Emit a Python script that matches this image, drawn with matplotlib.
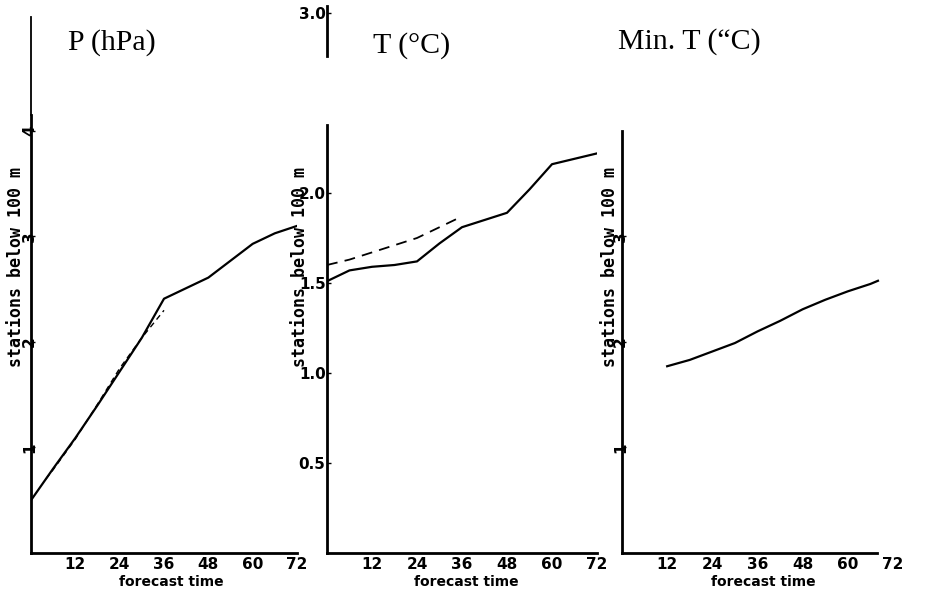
import matplotlib.pyplot as plt

# forecast time (h)
hours = [0, 6, 12, 18, 24, 30, 36, 42, 48, 54, 60, 66, 72]

# P (hPa): stations below 100 m
p_solid = [0.50, 0.80, 1.09, 1.40, 1.72, 2.04, 2.41, 2.51, 2.61, 2.77, 2.93, 3.03, 3.10]
p_dash_hours = [4, 6, 12, 18, 24, 30, 36]
p_dash = [0.70, 0.79, 1.08, 1.41, 1.75, 2.04, 2.30]

# T (C)
t_solid = [1.51, 1.57, 1.59, 1.60, 1.62, 1.72, 1.81, 1.85, 1.89, 2.02, 2.16, 2.19, 2.22]
t_dash_hours = [0, 6, 12, 18, 24, 30, 36]
t_dash = [1.60, 1.63, 1.67, 1.71, 1.75, 1.81, 1.87]

# Min. T (C)
mint_hours = [12, 18, 24, 30, 36, 42, 48, 54, 60, 66, 68]
mint = [1.77, 1.83, 1.91, 1.99, 2.10, 2.20, 2.31, 2.40, 2.48, 2.55, 2.58]

xticks = [12, 24, 36, 48, 60, 72]
titles = ['P (hPa)', 'T (°C)', 'Min. T (“C)']

W, H = 930, 597
fig = plt.figure(figsize=(W / 100, H / 100), dpi=100)


def box(l, r, b, t):
    # pixel box -> figure fraction
    return [l / W, 1 - b / H, (r - l) / W, (b - t) / H]


def fx(x):
    return x / W


def fy(y):
    return 1 - y / H


tickkw = dict(fontfamily='DejaVu Sans', fontweight='bold', fontsize=11)

ax1 = fig.add_axes(box(31, 297, 553, 17))
ax2 = fig.add_axes(box(327, 597, 553, 13))
ax3 = fig.add_axes(box(622, 893, 553, 17))

for ax in (ax1, ax2, ax3):
    for s in ('top', 'right'):
        ax.spines[s].set_visible(False)
    for s in ('left', 'bottom'):
        ax.spines[s].set_linewidth(2)
    ax.set_xlim(0, 72)
    ax.set_xticks(xticks)
    ax.set_xticklabels([str(v) for v in xticks], **tickkw)
    ax.tick_params(axis='x', direction='in', length=0, pad=3)
    ax.tick_params(axis='y', direction='in', length=3, width=1, pad=1)
    ax.patch.set_alpha(0)

# panel 1
ax1.set_ylim(0, 5.08)
ax1.spines['left'].set_bounds(0, 4.15)
ax1.plot([0, 0], [4.15, 5.08], color='k', lw=1.3, clip_on=False)
ax1.set_yticks([1, 2, 3, 4])
ax1.set_yticklabels(['1', '2', '3', '4'], rotation=90, ha='center', va='center', **tickkw)
ax1.plot(hours, p_solid, color='k', lw=1.6)
ax1.plot(p_dash_hours, p_dash, color='k', lw=1.0, dashes=(4, 3))

# panel 2
ax2.set_ylim(0, 3.0)
ax2.spines['left'].set_bounds(0, 2.38)
ax2.plot([0, 0], [2.76, 3.04], color='k', lw=2, clip_on=False)
ax2.set_yticks([0.5, 1.0, 1.5, 2.0, 3.0])
ax2.set_yticklabels(['0.5', '1.0', '1.5', '2.0', '3.0'], **tickkw)
ax2.plot(hours, t_solid, color='k', lw=1.6)
ax2.plot(t_dash_hours, t_dash, color='k', lw=1.3, dashes=(6, 4))

# panel 3
ax3.set_ylim(0, 5.08)
ax3.spines['left'].set_bounds(0, 4.0)
ax3.spines['bottom'].set_bounds(0, 67.8)
ax3.set_yticks([1, 2, 3])
ax3.set_yticklabels(['1', '2', '3'], rotation=90, ha='center', va='center', **tickkw)
ax3.plot(mint_hours, mint, color='k', lw=1.6)

# titles
for x, y, s in [(68, 50, titles[0]), (373, 53, titles[1]), (618, 49, titles[2])]:
    fig.text(fx(x), fy(y), s, family='Liberation Serif', fontsize=21.5, va='baseline', ha='left')

# axis labels
for x in (171, 466, 763):
    fig.text(fx(x), fy(582), 'forecast time', ha='center', va='center',
             family='DejaVu Sans', fontweight='bold', fontsize=10)
for x in (16, 300, 610):
    fig.text(fx(x), fy(267), 'stations below 100 m', ha='center', va='center', rotation=90,
             family='DejaVu Sans Mono', fontweight='bold', fontsize=12)

fig.savefig('out.png', dpi=100)
